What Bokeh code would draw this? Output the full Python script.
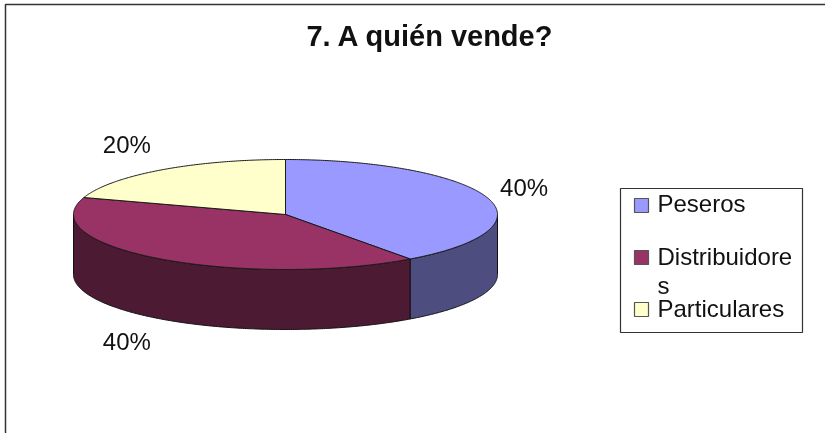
import numpy as np
from bokeh.core.properties import value
from bokeh.embed import file_html
from bokeh.models import Range1d
from bokeh.plotting import figure
from bokeh.resources import INLINE

title = "7. A quién vende?"
categories = ["Peseros", "Distribuidores", "Particulares"]
shares = [40, 40, 20]
share_labels = ["40%", "40%", "20%"]
top_colors = ["#9999FF", "#993366", "#FFFFCC"]
side_colors = ["#4D4D80", "#4D1A33", "#808066"]

W, H = 825, 433
CX, CY, RX, RY, DEPTH = 285, 214, 212, 55, 60

p = figure(width=W, height=H, output_backend="svg", toolbar_location=None,
           x_range=Range1d(0, W), y_range=Range1d(H, 0),
           min_border=0, outline_line_color=None,
           styles={"position": "fixed", "left": "0px", "top": "0px"})
p.xaxis.visible = False
p.yaxis.visible = False
p.grid.visible = False


def arc(a0, a1, dy=0.0):
    t = np.radians(np.linspace(a0, a1, max(2, int(abs(a1 - a0) * 2))))
    return CX + RX * np.sin(t), CY + dy - RY * np.cos(t)


# frame
p.line([5, 5, W], [H, 4, 4], line_color="#333333", line_width=1.5)

angles = np.cumsum([0] + shares) / sum(shares) * 360

# side walls
for i in range(len(shares)):
    a0, a1 = max(angles[i], 90), min(angles[i + 1], 270)
    if a1 <= a0:
        continue
    tx, ty = arc(a0, a1)
    bx, by = arc(a0, a1, DEPTH)
    p.patch(np.r_[tx, bx[::-1]], np.r_[ty, by[::-1]],
            fill_color=side_colors[i], line_color="#111111", line_width=1)

# top faces
for i in range(len(shares)):
    ax, ay = arc(angles[i], angles[i + 1])
    p.patch(np.r_[CX, ax], np.r_[CY, ay],
            fill_color=top_colors[i], line_color="#1a1a1a", line_width=1)

# percent labels, placed relative to each slice's middle
mids = np.radians((angles[:-1] + angles[1:]) / 2)
off_x = [38, -33, -33]
off_y = [-10, 83, -26]
lx = CX + RX * np.sin(mids) + off_x
ly = CY - RY * np.cos(mids) + off_y
p.text(lx - 1, ly, text=share_labels, text_font=value("Liberation Sans"),
       text_font_size="24px", text_align="center", text_baseline="middle",
       text_color="#111111")

# title
p.text([430], [35], text=[title], text_font=value("Liberation Sans"),
       text_font_style="bold", text_font_size="29px",
       text_align="center", text_baseline="middle", text_color="#111111")

# legend
p.quad(left=[620], right=[802], top=[188], bottom=[332],
       fill_color="white", line_color="#333333", line_width=1.2)
legend_y = [205, 257, 309]
p.quad(left=[634] * 3, right=[648] * 3,
       top=[y - 7 for y in legend_y], bottom=[y + 7 for y in legend_y],
       fill_color=top_colors, line_color="#555555", line_width=1.2)
p.text([657] * 3, [203, 256, 308],
       text=[categories[0], categories[1][:-1], categories[2]],
       text_font=value("Liberation Sans"), text_font_size="24px",
       text_align="left", text_baseline="middle", text_color="#111111")
p.text([657], [285], text=[categories[1][-1]],
       text_font=value("Liberation Sans"), text_font_size="24px",
       text_align="left", text_baseline="middle", text_color="#111111")

open("out.html", "w").write(file_html(p, INLINE))
